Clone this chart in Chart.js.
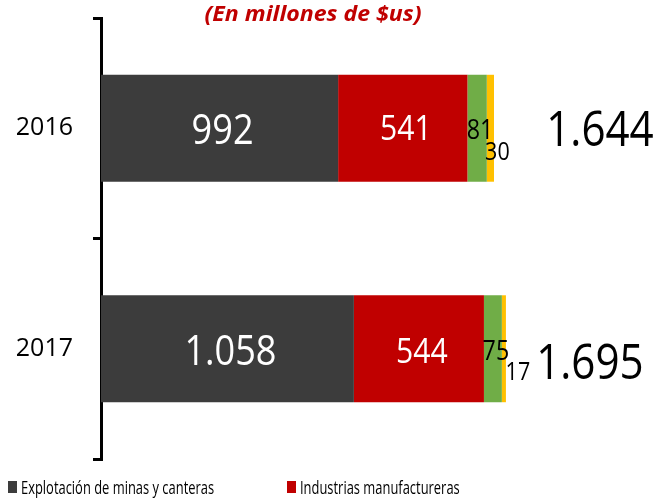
<!DOCTYPE html>
<html>
<head>
<meta charset="utf-8">
<script src="https://cdn.jsdelivr.net/npm/chart.js@4/dist/chart.umd.min.js"></script>
<style>
  html, body { margin: 0; padding: 0; background: #ffffff; }
  #wrap { width: 657px; height: 498px; position: relative; }
</style>
</head>
<body>
<div id="wrap"><canvas id="c" width="657" height="498"></canvas></div>
<script>
// ---- data ----
const categories = ['2016', '2017'];
const seriesNames = ['Explotación de minas y canteras', 'Industrias manufactureras', 'Otros 1', 'Otros 2'];
const mineria = [992, 1058];
const manufactura = [541, 544];
const otros1 = [81, 75];
const otros2 = [30, 17];
const totals = [1644, 1695];
const titleText = '(En millones de $us)';
const legendShown = 2; // the reference legend shows only the first two series

// ---- styles ----
const colors = ['#3c3c3c', '#c00000', '#70ad47', '#ffc000'];
const FONT = '"Open Sans", "Noto Sans", sans-serif';
const SX = 0.86; // horizontal condensing of text
const labelStyles = [
  { size: 42, color: '#ffffff', dx: 3, dy: [4, 4] },
  { size: 35, color: '#ffffff', dx: 3, dy: [2, 4] },
  { size: 27, color: '#000000', dx: 3, dy: [3, 4] },
  { size: 25, color: '#000000', dx: [7, 14], dy: [25, 24] }
];
const totalStyle = { size: 49, color: '#000000', dx: [106, 84], dy: [4, 16] };

function fmt(v) {
  return String(v).replace(/\B(?=(\d{3})+(?!\d))/g, '.');
}
function pick(v, j) { return Array.isArray(v) ? v[j] : v; }

function drawText(ctx, text, x, y, font, color, align, baseline, sx) {
  ctx.save();
  ctx.translate(x, y);
  ctx.scale(sx || SX, 1);
  ctx.font = font;
  ctx.fillStyle = color;
  ctx.textAlign = align || 'center';
  ctx.textBaseline = baseline || 'middle';
  ctx.fillText(text, 0, 0);
  ctx.restore();
}

const labelPlugin = {
  id: 'labels',
  afterDatasetsDraw(chart) {
    const ctx = chart.ctx;
    chart.data.datasets.forEach((ds, i) => {
      const meta = chart.getDatasetMeta(i);
      const st = labelStyles[i];
      meta.data.forEach((bar, j) => {
        const p = bar.getProps(['x', 'y', 'base'], true);
        const cx = (p.x + p.base) / 2 + pick(st.dx, j);
        const cy = p.y + pick(st.dy, j);
        drawText(ctx, fmt(ds.data[j]), cx, cy, st.size + 'px ' + FONT, st.color);
      });
    });
    // totals at the end of each stacked bar
    const last = chart.getDatasetMeta(chart.data.datasets.length - 1);
    last.data.forEach((bar, j) => {
      const p = bar.getProps(['x', 'y'], true);
      drawText(ctx, fmt(totals[j]), p.x + totalStyle.dx[j], p.y + totalStyle.dy[j],
        totalStyle.size + 'px ' + FONT, totalStyle.color);
    });
  },
  afterDraw(chart) {
    const ctx = chart.ctx;
    // title
    drawText(ctx, titleText, 313, 21, 'italic bold 21px ' + FONT, '#c00000', 'center', 'alphabetic', 1.1);
    // legend
    const itemX = [8, 287];
    for (let i = 0; i < legendShown; i++) {
      ctx.fillStyle = colors[i];
      ctx.fillRect(itemX[i], 481, 9, 12);
      drawText(ctx, chart.data.datasets[i].label, itemX[i] + 13, 494, '19px ' + FONT, '#000000', 'left', 'alphabetic', 0.68);
    }
  }
};

const seriesValues = [mineria, manufactura, otros1, otros2];

new Chart(document.getElementById('c'), {
  type: 'bar',
  data: {
    labels: categories,
    datasets: seriesValues.map((vals, i) => ({
      label: seriesNames[i],
      data: vals,
      backgroundColor: colors[i],
      borderWidth: 0,
      barPercentage: 0.485,
      categoryPercentage: 1.0
    }))
  },
  options: {
    indexAxis: 'y',
    responsive: false,
    animation: false,
    devicePixelRatio: 1,
    layout: { padding: { top: 18, bottom: 39, left: 0, right: 0 } },
    plugins: {
      legend: { display: false },
      title: { display: false },
      tooltip: { enabled: false }
    },
    scales: {
      x: {
        stacked: true,
        display: false,
        min: 0,
        max: 2326
      },
      y: {
        stacked: true,
        afterFit(scale) {
          scale.width = 101;
          scale.paddingTop = 0;
          scale.paddingBottom = 0;
        },
        border: { display: true, color: '#000000', width: 3 },
        grid: {
          drawOnChartArea: false,
          drawTicks: true,
          tickLength: 8,
          color: '#000000',
          lineWidth: 3,
          offset: true
        },
        ticks: {
          color: '#000000',
          font: { family: FONT, size: 25 },
          padding: 20
        }
      }
    }
  },
  plugins: [labelPlugin]
});
</script>
</body>
</html>
